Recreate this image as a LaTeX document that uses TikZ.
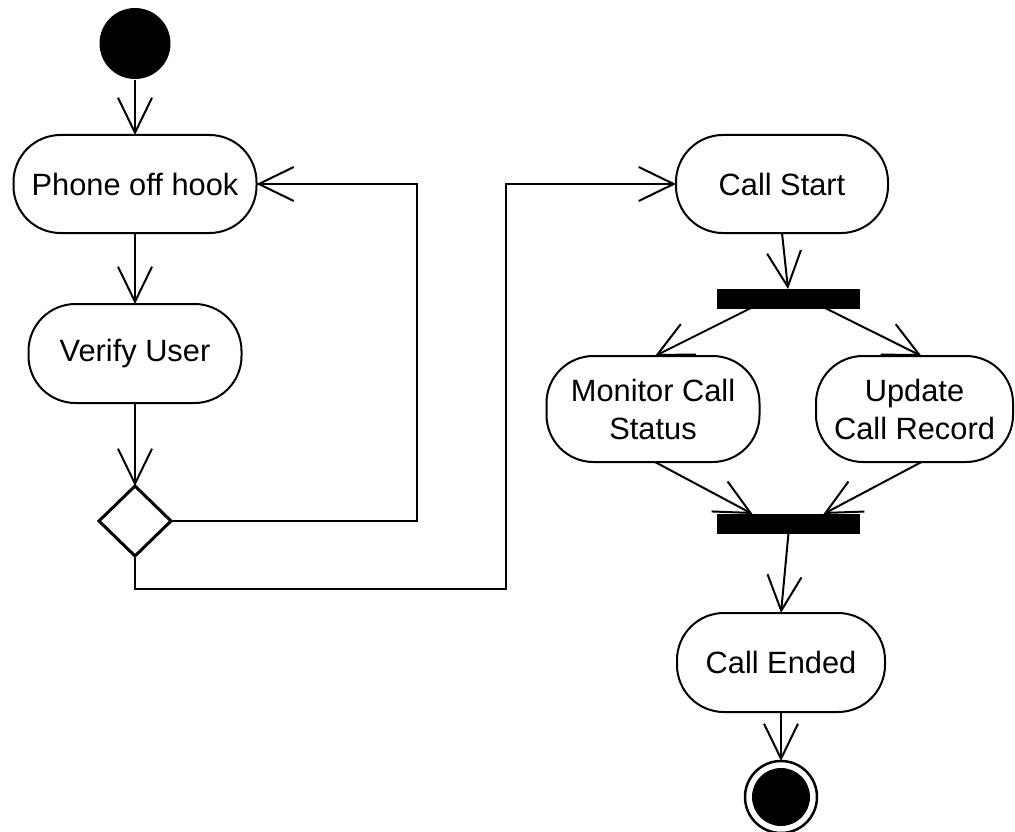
\documentclass[tikz,border=0pt]{standalone}
\usepackage{fontspec}
\setmainfont{Liberation Sans}
\usetikzlibrary{arrows.meta,shapes.geometric,calc}
\begin{document}
\begin{tikzpicture}[x=1pt,y=-1pt,
  line width=2pt,
  act/.style={draw, rectangle, rounded corners=47pt, inner sep=0pt, outer sep=0pt,
    align=center, font=\fontsize{30.8}{38}\selectfont},
  bar/.style={draw, fill=black, rectangle, inner sep=0pt, outer sep=0pt,
    minimum width=142pt, minimum height=19pt, line width=0.5pt},
  arr/.style={-{Straight Barb[length=35pt,width=34pt]}},
  dec/.style={draw, diamond, inner sep=0pt, outer sep=0pt, line width=3pt,
    minimum width=72pt, minimum height=70pt}]
\useasboundingbox (0,0) rectangle (1015,832);
% nodes
\node[circle, fill=black, inner sep=0pt, minimum size=71pt] (start) at (135,43.5) {};
\node[act, minimum width=243pt, minimum height=98pt] (phone) at (135,184) {Phone off hook};
\node[act, minimum width=213pt, minimum height=99pt] (verify) at (135,353.5) {Verify User};
\node[dec] (dec) at (135,521) {};
\node[act, minimum width=212pt, minimum height=98pt] (cs) at (782,184) {Call Start};
\node[bar] (bar1) at (788,298.5) {};
\node[act, minimum width=213pt, minimum height=106pt] (mon) at (653,409) {Monitor Call\\Status};
\node[act, minimum width=197pt, minimum height=106pt] (upd) at (914.5,409) {Update\\Call Record};
\node[bar] (bar2) at (788.5,523.5) {};
\node[act, minimum width=208pt, minimum height=99pt] (ce) at (781,662.5) {Call Ended};
\node[circle, draw, line width=2.5pt, inner sep=0pt, outer sep=0pt, minimum size=72pt] (end) at (781,797) {};
\node[circle, fill=black, inner sep=0pt, minimum size=58pt] (endin) at (end) {};
\coordinate (lp) at (506,589);
% connectors
\draw[arr] (start) -- (phone);
\draw[arr] (phone) -- (verify);
\draw[arr] (verify) -- (dec);
\draw[arr] (dec.east) -| ([xshift=160pt]phone.east) -- (phone.east);
\draw[arr] (dec.south) |- (lp) |- (cs.west);
\draw[arr] (cs.south) -- (bar1.north);
\draw[arr] ([xshift=-37pt]bar1.south) -- ([xshift=2pt]mon.north);
\draw[arr] ([xshift=37pt]bar1.south) -- ([xshift=7pt]upd.north);
\draw[arr] ([xshift=2pt]mon.south) -- ([xshift=-36pt]bar2.north);
\draw[arr] ([xshift=7pt]upd.south) -- ([xshift=35pt]bar2.north);
\draw[arr] (bar2.south) -- (ce.north);
\draw[arr] (ce) -- (end);
\end{tikzpicture}
\end{document}
